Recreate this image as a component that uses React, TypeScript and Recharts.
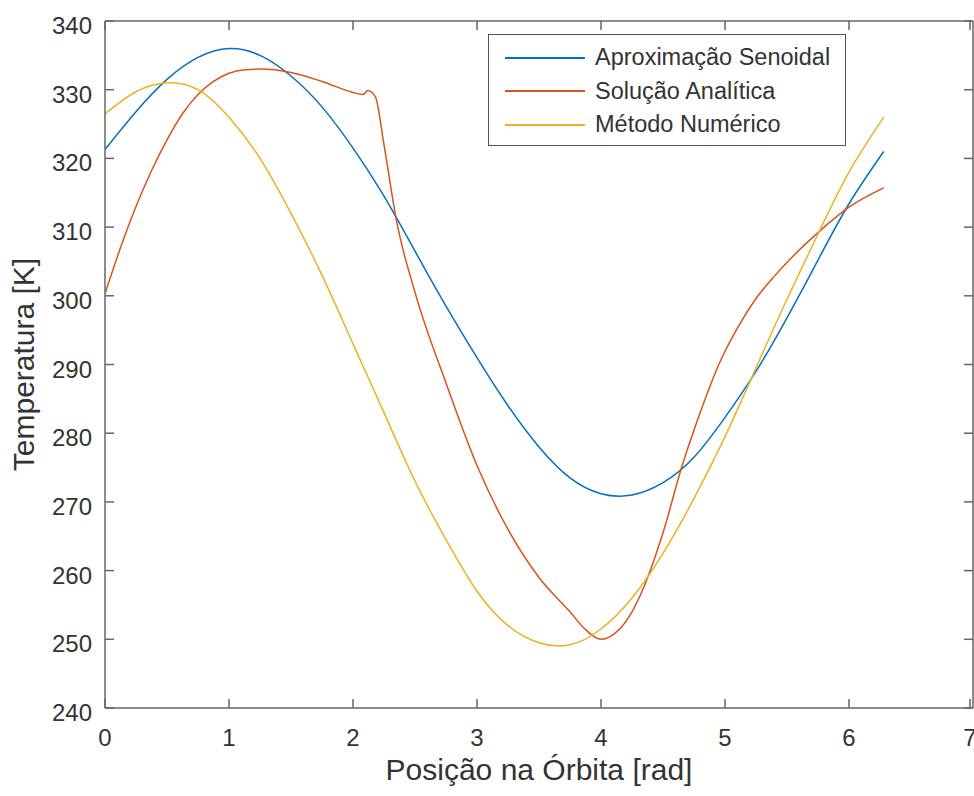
import React from 'react';
import { LineChart, Line, XAxis, YAxis, Legend } from 'recharts';

// posição na órbita [rad] – grade usada pelas curvas azul e amarela
const xGrid = [0, 0.25, 0.5, 0.75, 1.0, 1.25, 1.5, 1.75, 2.0, 2.25, 2.5, 2.75, 3.0, 3.25, 3.5, 3.75, 4.0, 4.25, 4.5, 4.75, 5.0, 5.25, 5.5, 5.75, 6.0, 6.28];
const senoidal = [321.3, 326.8, 331.5, 334.7, 336, 335, 332, 327.5, 321.5, 314.5, 306.5, 298.5, 291, 284, 278, 273.5, 271.2, 271, 272.8, 276.5, 282.3, 289, 296.8, 305.2, 313.4, 321];
const numerico = [326.5, 329.7, 331, 330, 326, 320, 312, 303, 293, 283, 273, 264.5, 257, 252, 249.5, 249.2, 251.5, 256, 262.5, 270.5, 279.5, 289.5, 299.5, 309, 318, 326];

// solução analítica tem pontos próprios (quebra perto de 2.1 rad)
const analiticaX = [0, 0.125, 0.25, 0.375, 0.5, 0.625, 0.75, 0.875, 1.0, 1.125, 1.25, 1.5, 1.75, 2.0, 2.08, 2.12, 2.18, 2.25, 2.35, 2.5, 2.75, 3.0, 3.25, 3.5, 3.75, 3.87, 4.0, 4.15, 4.25, 4.35, 4.5, 4.65, 4.8, 4.95, 5.1, 5.25, 5.4, 5.55, 5.75, 6.0, 6.28];
const analitica = [300.3, 307, 313, 318.2, 322.7, 326.5, 329.3, 331.2, 332.4, 332.9, 333, 332.5, 331.2, 329.6, 329.3, 329.9, 329, 322, 311, 300.5, 287.3, 275.3, 266, 259, 254, 251.5, 250, 251.5, 254, 257.8, 265.5, 275, 283, 290, 295.3, 299.6, 302.9, 305.8, 309.2, 312.9, 315.7];

const nomes = ['Aproximação Senoidal', 'Solução Analítica', 'Método Numérico'];
const cores = ['#0072BD', '#D95319', '#EDB120'];

const xTicks = [0, 1, 2, 3, 4, 5, 6, 7];
const yTicks = [240, 250, 260, 270, 280, 290, 300, 310, 320, 330, 340];

const dadosSenoidal = xGrid.map((x, i) => ({ x, y: senoidal[i] }));
const dadosNumerico = xGrid.map((x, i) => ({ x, y: numerico[i] }));
const dadosAnalitica = analiticaX.map((x, i) => ({ x, y: analitica[i] }));

const FONT = '"Liberation Sans", Arial, Helvetica, sans-serif';
const AXIS = '#666';
const TEXT = '#333';
const TICK = 9;

const BottomTick = (p: any) => (
  <g>
    <line x1={p.x} y1={p.y} x2={p.x} y2={p.y - TICK} stroke={AXIS} strokeWidth={1.5} />
    <text x={p.x} y={p.y + 38} textAnchor="middle" fill={TEXT} fontSize={24} fontFamily={FONT}>{p.payload.value}</text>
  </g>
);
const TopTick = (p: any) => (
  <line x1={p.x} y1={p.y} x2={p.x} y2={p.y + TICK} stroke={AXIS} strokeWidth={1.5} />
);
const LeftTick = (p: any) => (
  <g>
    <line x1={p.x + 13} y1={p.y} x2={p.x + 13 + TICK} y2={p.y} stroke={AXIS} strokeWidth={1.5} />
    <text x={p.x} y={p.y + 13} textAnchor="end" fill={TEXT} fontSize={24} fontFamily={FONT}>{p.payload.value}</text>
  </g>
);
const RightTick = (p: any) => (
  <line x1={p.x} y1={p.y} x2={p.x - TICK} y2={p.y} stroke={AXIS} strokeWidth={1.5} />
);

// legenda na ordem das séries (o Legend do recharts ordena por nome)
const LegendBox = () => (
  <div style={{ border: '1.5px solid #555', background: '#fff', boxSizing: 'border-box', width: 358, height: 112, paddingTop: 6, fontFamily: FONT }}>
    {nomes.map((n, i) => (
      <div key={n} style={{ display: 'flex', alignItems: 'center', height: 33.5 }}>
        <div style={{ marginLeft: 16, width: 80, height: 0, borderTop: `2px solid ${cores[i]}` }} />
        <span style={{ marginLeft: 10, fontSize: 23.5, color: TEXT, whiteSpace: 'nowrap' }}>{n}</span>
      </div>
    ))}
  </div>
);

export default function App() {
  return (
    <div style={{ position: 'absolute', left: 0, top: 0, background: '#fff' }}>
      <LineChart width={974} height={796} margin={{ top: 20, right: 0, bottom: 0, left: 0 }}>
        <XAxis
          dataKey="x" type="number" domain={[0, 7]} ticks={xTicks} height={88}
          tickSize={0} tickMargin={0} tickLine={false} tick={BottomTick}
          axisLine={{ stroke: AXIS, strokeWidth: 1.5 }} allowDataOverflow
          label={{ value: 'Posição na Órbita [rad]', position: 'insideBottom', offset: 16, fill: TEXT, fontSize: 30, fontFamily: FONT }}
        />
        <XAxis
          xAxisId="top" orientation="top" dataKey="x" type="number" domain={[0, 7]} ticks={xTicks} height={1}
          tickSize={0} tickMargin={0} tickLine={false} tick={TopTick}
          axisLine={{ stroke: AXIS, strokeWidth: 1.5 }} allowDataOverflow
        />
        <YAxis
          type="number" domain={[240, 340]} ticks={yTicks} width={105}
          tickSize={0} tickMargin={13} tickLine={false} tick={LeftTick}
          axisLine={{ stroke: AXIS, strokeWidth: 1.5 }} allowDataOverflow
          label={{ value: 'Temperatura [K]', angle: -90, position: 'insideLeft', offset: 23, fill: TEXT, fontSize: 30, fontFamily: FONT, style: { textAnchor: 'middle' } }}
        />
        <YAxis
          yAxisId="right" orientation="right" type="number" domain={[240, 340]} ticks={yTicks} width={1}
          tickSize={0} tickMargin={0} tickLine={false} tick={RightTick}
          axisLine={{ stroke: AXIS, strokeWidth: 1.5 }} allowDataOverflow
        />
        <Legend
          layout="vertical" align="center" verticalAlign="middle" content={LegendBox}
          wrapperStyle={{ left: 488, top: 34, width: 358, height: 112 }}
        />
        <Line data={dadosSenoidal} dataKey="y" name={nomes[0]} type="natural" stroke={cores[0]} strokeWidth={1.5} dot={false} isAnimationActive={false} />
        <Line data={dadosAnalitica} dataKey="y" name={nomes[1]} type="monotone" stroke={cores[1]} strokeWidth={1.5} dot={false} isAnimationActive={false} />
        <Line data={dadosNumerico} dataKey="y" name={nomes[2]} type="natural" stroke={cores[2]} strokeWidth={1.5} dot={false} isAnimationActive={false} />
      </LineChart>
    </div>
  );
}
